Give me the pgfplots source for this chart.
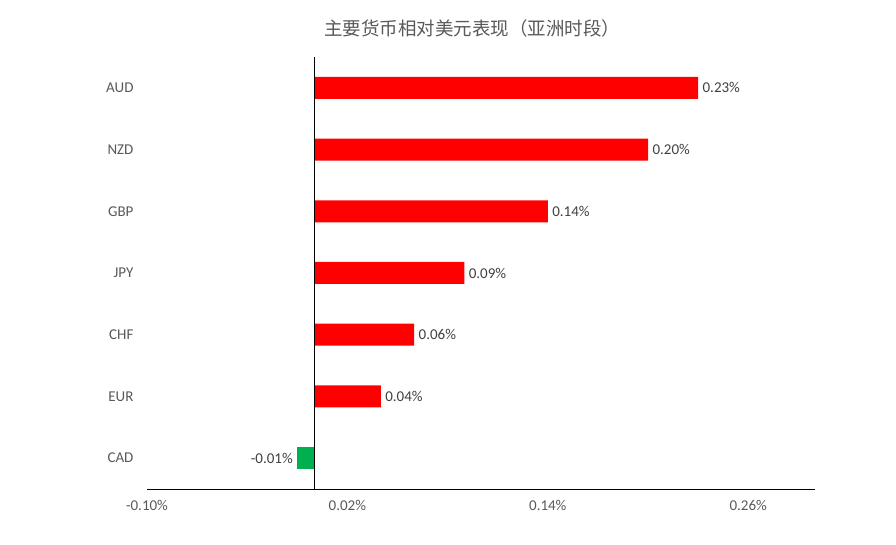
\documentclass[border=0pt]{standalone}
\usepackage{fontspec}
\setmainfont{Carlito}
\newfontfamily\cjk{Noto Sans CJK SC}
\usepackage{pgfplots}
\pgfplotsset{compat=1.18}
\definecolor{lblgray}{HTML}{595959}
\definecolor{valgray}{HTML}{404040}
\definecolor{barred}{HTML}{FF0000}
\definecolor{bargreen}{HTML}{00B050}

\begin{document}
\begin{tikzpicture}[x=1pt,y=1pt]
\useasboundingbox (0,0) rectangle (896,544);
\node[font=\cjk\fontsize{18.5}{22}\selectfont, text=lblgray] at (472,516) {主要货币相对美元表现（亚洲时段）};
\begin{axis}[
    at={(147pt,55pt)}, anchor=south west,
    scale only axis, width=668pt, height=432pt,
    xbar, bar width=22pt,
    xmin=-0.10, xmax=0.30, ymin=-0.5, ymax=6.5,
    xtick={-0.10,0.02,0.14,0.26},
    xticklabels={-0.10\%,0.02\%,0.14\%,0.26\%},
    ytick={0,...,6},
    yticklabels={CAD,EUR,CHF,JPY,GBP,NZD,AUD},
    major tick length=0pt,
    axis line style={draw=none},
    ticklabel style={font=\fontsize{15}{17}\selectfont, text=lblgray},
    xticklabel style={yshift=-8pt},
    yticklabel style={xshift=-10pt},
    nodes near coords, point meta=explicit symbolic,
    nodes near coords style={font=\fontsize{15}{17}\selectfont, text=valgray},
    clip=false,
  ]
  % positive moves vs USD
  \addplot[fill=barred, draw=none, bar shift=0pt,
    every node near coord/.append style={anchor=west, xshift=1pt}] coordinates {
    (0.04,1) [0.04\%]
    (0.06,2) [0.06\%]
    (0.09,3) [0.09\%]
    (0.14,4) [0.14\%]
    (0.20,5) [0.20\%]
    (0.23,6) [0.23\%]
  };
  % negative
  \addplot[fill=bargreen, draw=none, bar shift=0pt,
    every node near coord/.append style={anchor=east, xshift=-1pt}] coordinates {
    (-0.01,0) [-0.01\%]
  };
  \draw[black, line width=1pt] (axis cs:-0.10,-0.5) -- (axis cs:0.30,-0.5);
  \draw[black, line width=1pt] (axis cs:0,-0.5) -- (axis cs:0,6.5);
\end{axis}
\end{tikzpicture}
\end{document}
